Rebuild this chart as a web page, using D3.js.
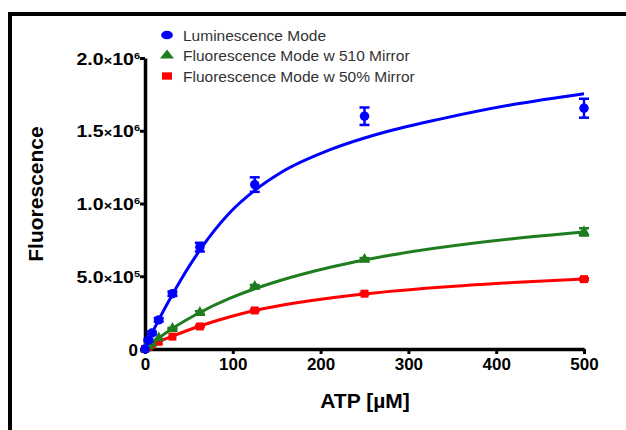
<!DOCTYPE html>
<html lang="en">
<head>
    <meta charset="UTF-8">
    <title>ATP Fluorescence</title>
    <script src="https://d3js.org/d3.v7.min.js"></script>
    <style>
        body { margin: 0; background: #fff; }
        text { font-family: "Liberation Sans", Arial, sans-serif; }
    </style>
</head>
<body>
    <div id="output"></div>

    <script>
        // ATP concentrations (uM) of the measured points
        var atpConc = [0, 3.9, 7.8, 15.6, 31.25, 62.5, 125, 250, 500];

        // measured means and error bars
        var lumMean = [0, 60000, 110000, 200000, 380000, 700000, 1130000, 1600000, 1655000];
        var lumErr = [0, 8000, 10000, 12000, 15000, 30000, 50000, 60000, 65000];
        var mir510Mean = [0, 20000, 40000, 75000, 140000, 250000, 430000, 615000, 805000];
        var mir510Err = [0, 0, 0, 0, 5000, 10000, 10000, 10000, 25000];
        var mir50Mean = [0, 15000, 30000, 50000, 85000, 155000, 265000, 380000, 480000];
        var mir50Err = [0, 0, 0, 0, 0, 5000, 5000, 5000, 8000];

        // fitted curves
        var fitConc = [0, 7.8, 15.6, 31.25, 62.5, 97, 125, 154, 211, 250, 279, 336, 419, 500];
        var lumFit = [0, 105000, 200000, 375000, 680000, 940000, 1090000, 1210000, 1370000, 1450000, 1500000, 1580000, 1680000, 1755000];
        var mir510Fit = [0, 38000, 75000, 141000, 251000, 349000, 414000, 471000, 562000, 612000, 644000, 697000, 758000, 804000];
        var mir50Fit = [0, 26000, 50000, 88000, 158000, 222000, 265000, 299000, 350000, 378000, 396000, 425000, 457000, 481000];

        var seriesNames = ["Luminescence Mode", "Fluorescence Mode w 510 Mirror", "Fluorescence Mode w 50% Mirror"];
        var seriesColors = ["#0000ff", "#1e7d1e", "#ff0000"];

        var xTicks = [0, 100, 200, 300, 400, 500];
        var yTicks = [0, 500000, 1000000, 1500000, 2000000];

        var width = 626, height = 430;

        var svg = d3.select("#output").append("svg")
            .attr("width", width)
            .attr("height", height);

        // frame (only top and left edges show in the crop)
        svg.append("rect").attr("x", 8).attr("y", 12).attr("width", width).attr("height", 4).attr("fill", "#000");
        svg.append("rect").attr("x", 8).attr("y", 12).attr("width", 4).attr("height", height).attr("fill", "#000");

        var x = d3.scaleLinear().domain([0, 500]).range([145, 584]);
        var y = d3.scaleLinear().domain([0, 2000000]).range([349, 58]);

        // x axis
        var xAxis = svg.append("g")
            .attr("transform", "translate(0," + y(0) + ")")
            .call(d3.axisBottom(x).tickValues(xTicks).tickSize(5).tickSizeOuter(0).tickPadding(4));
        xAxis.select(".domain").attr("stroke-width", 3.5);
        xAxis.selectAll(".tick line").attr("stroke-width", 3);
        xAxis.selectAll(".tick text")
            .attr("font-size", 17).attr("font-weight", "bold").attr("fill", "#000")
            .attr("font-family", "'Liberation Sans', Arial, sans-serif");

        // y axis
        var yAxis = svg.append("g")
            .attr("transform", "translate(" + x(0) + ",0)")
            .call(d3.axisLeft(y).tickValues(yTicks).tickSize(5).tickSizeOuter(0).tickFormat(""));
        yAxis.select(".domain").attr("stroke-width", 3.5);
        yAxis.selectAll(".tick line").attr("stroke-width", 3);

        // y tick labels like 1.5x10^6
        yAxis.selectAll(".tick").each(function(d) {
            var t = d3.select(this).append("text")
                .attr("fill", "#000")
                .attr("font-weight", "bold")
                .attr("font-size", 16)
                .attr("text-anchor", "end")
                .attr("transform", "translate(-5,6) scale(1.22,1)");
            if (d === 0) {
                t.attr("font-size", 17).attr("transform", "translate(-7,6)").text("0");
                return;
            }
            var exp = Math.floor(Math.log10(d));
            var mant = (d / Math.pow(10, exp)).toFixed(1);
            t.append("tspan").text(mant);
            t.append("tspan").attr("font-size", 12).text("\u00d7");
            t.append("tspan").text("10");
            t.append("tspan").attr("font-size", 9).attr("dy", -6).text(exp);
        });

        // axis titles
        svg.append("text")
            .attr("x", 365).attr("y", 408)
            .attr("text-anchor", "middle")
            .attr("font-size", 21).attr("font-weight", "bold")
            .text("ATP [\u00b5M]");

        svg.append("text")
            .attr("transform", "translate(43,194) rotate(-90)")
            .attr("text-anchor", "middle")
            .attr("font-size", 21).attr("font-weight", "bold")
            .text("Fluorescence");

        var series = [
            { name: seriesNames[0], color: seriesColors[0], mean: lumMean, err: lumErr, fit: lumFit, symbol: d3.symbolCircle, size: 70 },
            { name: seriesNames[1], color: seriesColors[1], mean: mir510Mean, err: mir510Err, fit: mir510Fit, symbol: d3.symbolTriangle, size: 55 },
            { name: seriesNames[2], color: seriesColors[2], mean: mir50Mean, err: mir50Err, fit: mir50Fit, symbol: d3.symbolSquare, size: 64 }
        ];

        var line = d3.line()
            .x(function(d) { return x(d[0]); })
            .y(function(d) { return y(d[1]); })
            .curve(d3.curveMonotoneX);

        // draw the red one first so blue ends on top
        series.slice().reverse().forEach(function(s) {
            var g = svg.append("g");

            g.append("path")
                .datum(fitConc.map(function(c, i) { return [c, s.fit[i]]; }))
                .attr("d", line)
                .attr("fill", "none")
                .attr("stroke", s.color)
                .attr("stroke-width", 3);

            var pts = atpConc.map(function(c, i) { return { c: c, m: s.mean[i], e: s.err[i] }; });

            // error bars
            var eb = g.selectAll(".eb").data(pts.filter(function(p) { return p.e > 0; }))
                .enter().append("g").attr("stroke", s.color).attr("stroke-width", 2.5);
            eb.append("line")
                .attr("x1", function(p) { return x(p.c); }).attr("x2", function(p) { return x(p.c); })
                .attr("y1", function(p) { return y(p.m - p.e); }).attr("y2", function(p) { return y(p.m + p.e); });
            eb.append("line")
                .attr("x1", function(p) { return x(p.c) - 5; }).attr("x2", function(p) { return x(p.c) + 5; })
                .attr("y1", function(p) { return y(p.m + p.e); }).attr("y2", function(p) { return y(p.m + p.e); });
            eb.append("line")
                .attr("x1", function(p) { return x(p.c) - 5; }).attr("x2", function(p) { return x(p.c) + 5; })
                .attr("y1", function(p) { return y(p.m - p.e); }).attr("y2", function(p) { return y(p.m - p.e); });

            // markers
            g.selectAll(".pt").data(pts)
                .enter().append("path")
                .attr("d", d3.symbol().type(s.symbol).size(s.size))
                .attr("transform", function(p) { return "translate(" + x(p.c) + "," + y(p.m) + ")"; })
                .attr("fill", s.color);
        });

        // legend
        var legend = svg.append("g");
        series.forEach(function(s, i) {
            var ly = 35 + i * 20.5;
            legend.append("path")
                .attr("d", d3.symbol().type(s.symbol).size(s.size * 0.85))
                .attr("transform", "translate(167," + ly + ") scale(1.35,1)")
                .attr("fill", s.color);
            legend.append("text")
                .attr("x", 183).attr("y", ly + 5.5)
                .attr("font-size", 15.5)
                .attr("fill", "#333")
                .text(s.name);
        });
    </script>
</body>
</html>
